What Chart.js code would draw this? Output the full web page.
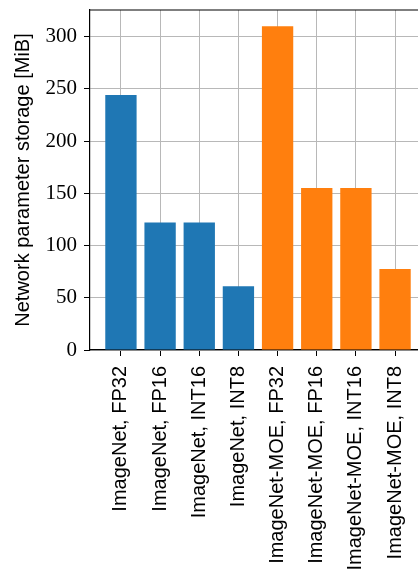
<!DOCTYPE html>
<html lang="en">
  <head>
    <meta charset="UTF-8" />
    <title>Network parameter storage</title>
    <script src="https://cdn.jsdelivr.net/npm/chart.js"></script>
    <style>
      html, body { margin: 0; padding: 0; overflow: hidden; background: #fff; }
      #wrap { width: 426px; height: 571px; }
    </style>
  </head>
  <body>
    <div id="wrap">
      <canvas id="storageChart" width="426" height="571"></canvas>
    </div>

    <script>
      const labels = [
        "ImageNet, FP32",
        "ImageNet, FP16",
        "ImageNet, INT16",
        "ImageNet, INT8",
        "ImageNet-MOE, FP32",
        "ImageNet-MOE, FP16",
        "ImageNet-MOE, INT16",
        "ImageNet-MOE, INT8",
      ];
      const storageMiB = [244.2, 122.1, 122.1, 61.05, 310, 155, 155, 77.5];
      const barColors = [
        "#1f77b4", "#1f77b4", "#1f77b4", "#1f77b4",
        "#ff7f0e", "#ff7f0e", "#ff7f0e", "#ff7f0e",
      ];
      const yTicks = [0, 50, 100, 150, 200, 250, 300];

      const ctx = document.getElementById("storageChart").getContext("2d");

      // top/right spine, like matplotlib's frame
      const frame = {
        id: "frame",
        afterDraw(chart) {
          const a = chart.chartArea;
          const c = chart.ctx;
          c.save();
          c.strokeStyle = "#000";
          c.lineWidth = 1.2;
          c.beginPath();
          c.moveTo(a.left, a.top);
          c.lineTo(a.right, a.top);
          c.lineTo(a.right, a.bottom);
          c.stroke();
          c.restore();
        },
      };

      new Chart(ctx, {
        type: "bar",
        data: {
          datasets: [
            {
              data: storageMiB.map((v, i) => ({ x: i, y: v })),
              backgroundColor: barColors,
              borderWidth: 0,
              barPercentage: 0.8,
              categoryPercentage: 1.0,
            },
          ],
        },
        options: {
          responsive: false,
          animation: false,
          layout: { padding: { top: 10, right: 0, bottom: 0, left: 0 } },
          plugins: { legend: { display: false }, tooltip: { enabled: false } },
          scales: {
            x: {
              type: "linear",
              offset: false,
              min: -0.79,
              max: 7.79,
              afterBuildTicks: (scale) => {
                scale.ticks = labels.map((_, i) => ({ value: i }));
              },
              afterFit: (scale) => {
                scale.height = 221;
                scale.paddingLeft = 0;
                scale.paddingRight = 0;
              },
              grid: {
                offset: false,
                color: "#b8b8b8",
                lineWidth: 1,
                tickColor: "#000",
                tickLength: 6,
              },
              border: { color: "#000", width: 1.2 },
              ticks: {
                autoSkip: false,
                minRotation: 90,
                maxRotation: 90,
                padding: 10,
                color: "#000",
                font: { family: "Liberation Sans", size: 20 },
                callback: (v) => labels[v],
              },
            },
            y: {
              min: 0,
              max: 325.5,
              afterBuildTicks: (scale) => {
                scale.ticks = yTicks.map((v) => ({ value: v }));
              },
              afterFit: (scale) => {
                scale.width = 90;
                scale.paddingTop = 0;
                scale.paddingBottom = 0;
              },
              grid: {
                color: "#b8b8b8",
                lineWidth: 1,
                tickColor: "#000",
                tickLength: 6,
              },
              border: { color: "#000", width: 1.2 },
              ticks: {
                padding: 7,
                color: "#000",
                font: { family: "Liberation Serif", size: 21, lineHeight: 1 },
              },
              title: {
                display: true,
                text: "Network parameter storage [MiB]",
                color: "#000",
                font: { family: "Liberation Sans", size: 20 },
                padding: { top: 11, bottom: 0 },
              },
            },
          },
        },
        plugins: [frame],
      });
    </script>
  </body>
</html>
